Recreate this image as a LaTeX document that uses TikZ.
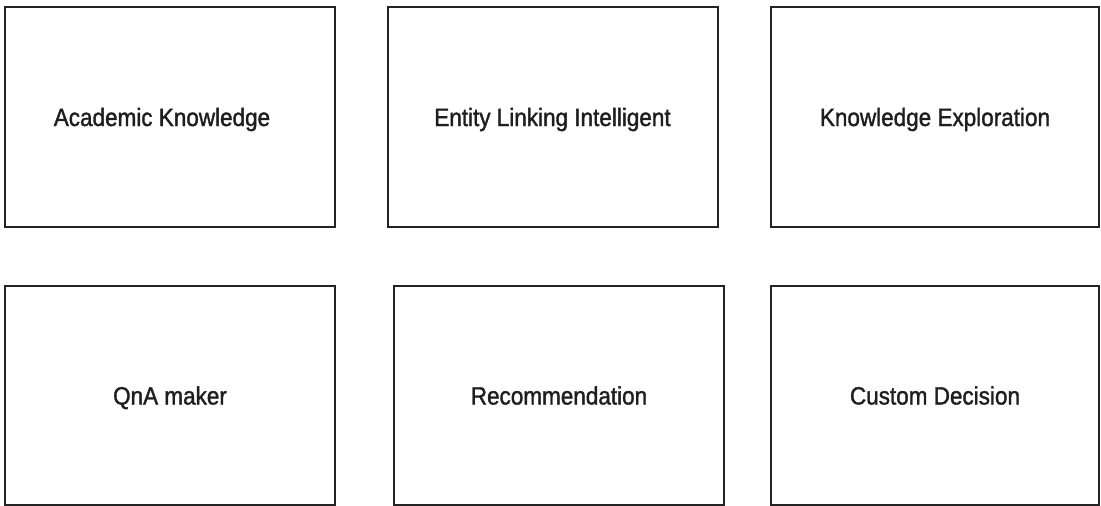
\documentclass[tikz,border=0pt]{standalone}
\usepackage{fontspec}
\setmainfont{Liberation Sans}[FakeStretch=0.9,FakeBold=1.4]
\usepackage{tikz}
\definecolor{GrisBorde}{RGB}{35,35,35}
\definecolor{GrisTexto}{RGB}{30,30,30}

\begin{document}
\begin{tikzpicture}[x=1pt,y=-1pt,
  servicio/.style={draw=GrisBorde,line width=2pt,inner sep=0pt,
    minimum width=330pt,minimum height=220pt,text=GrisTexto,
    text height=18pt,text depth=0pt,
    font=\fontsize{25}{29}\selectfont}]
  \useasboundingbox (0,0) rectangle (1101,506);

  \node[servicio] (academic) at (170,117) {Academic Knowledge\hspace*{16pt}};
  \node[servicio] (entity) at (552.5,117) {Entity Linking Intelligent};
  \node[servicio,minimum width=328pt] (explora) at (935,117) {Knowledge Exploration};

  \node[servicio,minimum height=219pt] (qna) at (170,395.5) {QnA maker};
  \node[servicio,minimum height=219pt] (recomienda) at (559,395.5) {Recommendation};
  \node[servicio,minimum width=328pt,minimum height=219pt] (decision) at (935,395.5) {Custom Decision};
\end{tikzpicture}
\end{document}
